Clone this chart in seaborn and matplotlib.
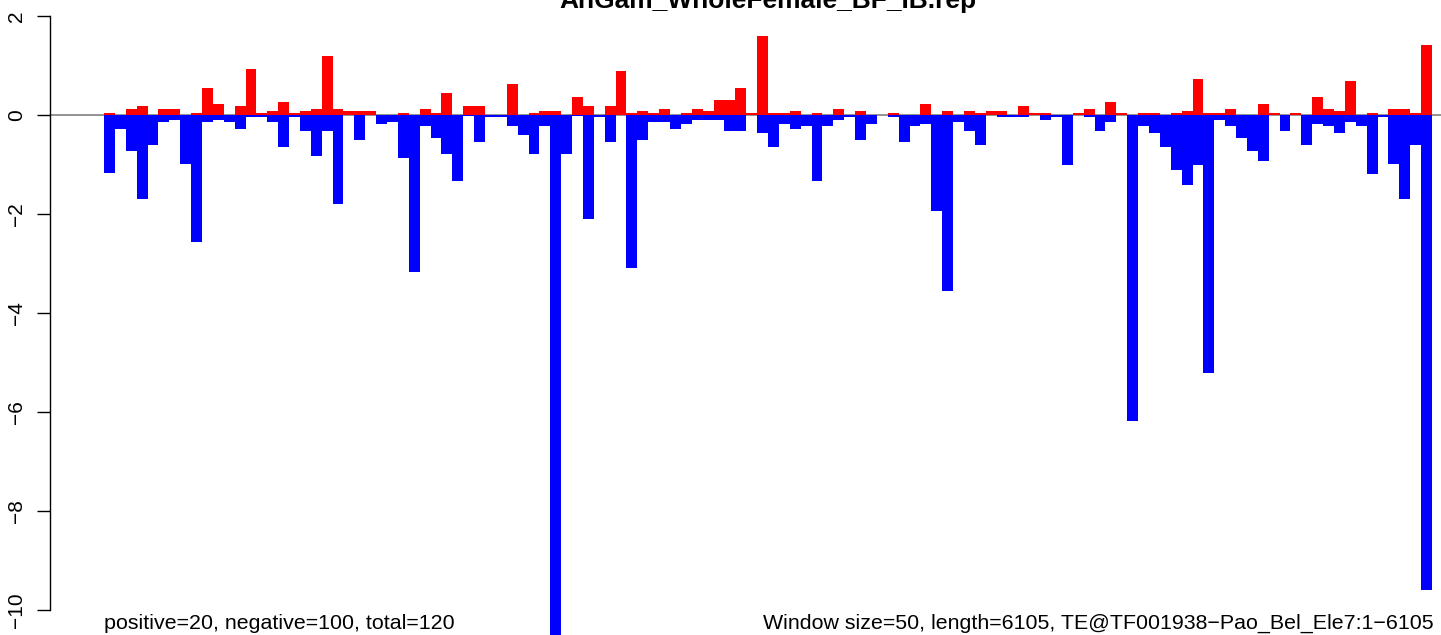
import numpy as np
import pandas as pd
import seaborn as sns
import matplotlib
matplotlib.use("Agg")
import matplotlib.pyplot as plt

plt.rcParams['font.family'] = ['Liberation Sans', 'DejaVu Sans']

title = "AnGam_WholeFemale_BF_IB.rep"
left_note = "positive=20, negative=100, total=120"
right_note = "Window size=50, length=6105, TE@TF001938\u2212Pao_Bel_Ele7:1\u22126105"

# one value per 50bp window
pos_vals = [0.05, 0, 0.13, 0.19, 0, 0.13, 0.13, 0, 0.05, 0.55, 0.23, 0, 0.19, 0.92, 0.05, 0.09,
            0.27, 0.05, 0.09, 0.13, 1.20, 0.13,
            0.09, 0.09, 0.09, 0, 0, 0.05, 0, 0.13, 0.05, 0.45, 0, 0.19, 0.19, 0, 0, 0.63, 0, 0.05,
            0.09, 0.09, 0, 0.37, 0.19,
            0, 0.19, 0.88, 0.05, 0.09, 0.05, 0.13, 0, 0.05, 0.13, 0.09, 0.31, 0.31, 0.55, 0.05, 1.60,
            0.05, 0.05, 0.09, 0, 0.05, 0,
            0.13, 0, 0.09, 0, 0, 0.05, 0, 0, 0.23, 0, 0.09, 0, 0.09, 0.05, 0.09, 0.09, 0, 0.19, 0.05,
            0.05, 0, 0, 0.05,
            0.13, 0, 0.27, 0.05, 0, 0.05, 0.05, 0, 0.05, 0.09, 0.73, 0.05, 0.05, 0.13, 0, 0, 0.23,
            0.05, 0, 0.05, 0, 0.37,
            0.13, 0.09, 0.69, 0, 0.05, 0, 0.13, 0.13, 0.05, 1.42]
neg_vals = [-1.165, -0.29, -0.73, -1.70, -0.61, -0.15, -0.11, -0.98, -2.57, -0.15, -0.11, -0.15,
            -0.29, -0.05, -0.05, -0.15, -0.65, -0.05, -0.33, -0.83, -0.33, -1.80,
            0, -0.51, 0, -0.19, -0.15, -0.875, -3.17, -0.23, -0.47, -0.79, -1.34, -0.03, -0.55,
            -0.05, -0.05, -0.23, -0.41, -0.79, -0.23, -10.6, -0.79, -0.03, -2.11,
            -0.05, -0.55, 0, -3.1, -0.51, -0.15, -0.15, -0.29, -0.19, -0.11, -0.11, -0.11, -0.33,
            -0.33, 0, -0.37, -0.65, -0.19, -0.29, -0.23, -1.34, -0.23,
            -0.11, -0.05, -0.51, -0.19, 0, -0.05, -0.55, -0.23, -0.19, -1.93, -3.56, -0.15, -0.33,
            -0.61, 0, -0.05, -0.05, -0.05, 0, -0.11, -0.05, -1.02, 0,
            -0.05, -0.33, -0.15, 0, -6.18, -0.23, -0.37, -0.65, -1.12, -1.42, -1.02, -5.21, -0.11,
            -0.23, -0.47, -0.73, -0.92, 0, -0.33, 0, -0.61, -0.19,
            -0.23, -0.37, -0.15, -0.23, -1.20, -0.05, -0.98, -1.70, -0.61, -9.6]
y_ticks = [-10, -8, -6, -4, -2, 0, 2]

df = pd.DataFrame({"win": np.arange(len(pos_vals)), "pos": pos_vals, "neg": neg_vals})

W, H = 1441, 635
fig = plt.figure(figsize=(W / 100, H / 100), dpi=100)
ax = fig.add_axes([50 / W, 0, 1 - 50 / W, 1])

ax.axhline(0, color="gray", lw=1.2, zorder=0)
sns.barplot(data=df, x="win", y="pos", color="red", width=1, saturation=1,
            linewidth=0, ax=ax, zorder=2)
sns.barplot(data=df, x="win", y="neg", color="blue", width=1, saturation=1,
            linewidth=0, ax=ax, zorder=3)

bw = (1432 - 104) / len(pos_vals)  # px per bar
ax.set_xlim(-0.5 - 54 / bw, len(pos_vals) - 0.5 + 9 / bw)
ax.set_ylim(-520 / 49.5, 115 / 49.5)

for s in ["top", "right", "bottom"]:
    ax.spines[s].set_visible(False)
ax.spines["left"].set_bounds(-10, 2)
ax.spines["left"].set_linewidth(1)
ax.set_xticks([])
ax.set_yticks(y_ticks)
ax.set_yticklabels([str(t).replace("-", "\u2212") for t in y_ticks], rotation=90, va="center")
ax.tick_params(axis="y", length=9.5, width=1, labelsize=15, pad=8)
ax.set_xlabel("")
ax.set_ylabel("")
ax.patch.set_alpha(0)

fig.text(768 / W, 1 - 8 / H, title, ha="center", va="baseline", fontsize=19, fontweight="bold")
fig.text(104 / W, 1 - 629 / H, left_note, ha="left", va="baseline", fontsize=15.4)
fig.text(1434 / W, 1 - 629 / H, right_note, ha="right", va="baseline", fontsize=15.4)

fig.savefig("out.png", dpi=100)
